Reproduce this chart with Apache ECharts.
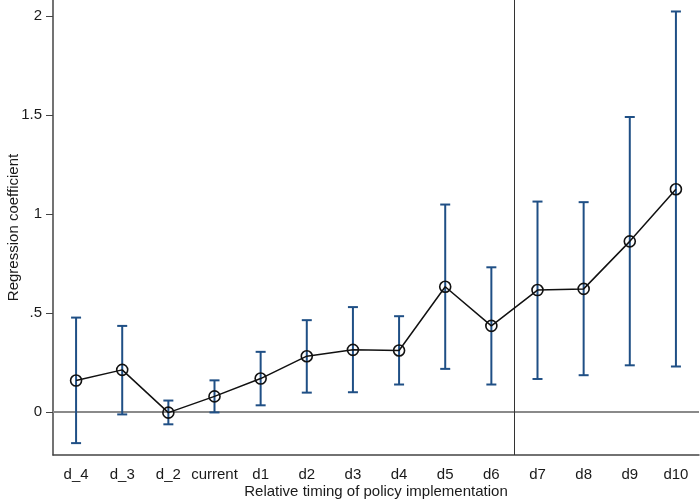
<!DOCTYPE html>
<html>
<head>
<meta charset="utf-8">
<script src="https://cdn.jsdelivr.net/npm/echarts@6/dist/echarts.min.js"></script>
<style>
  html, body { margin: 0; padding: 0; background: #fff; }
  #chart { width: 700px; height: 499px; }
</style>
</head>
<body>
<div id="chart"></div>
<script>
// event-time dummies
const categories = ["d_4", "d_3", "d_2", "current", "d1", "d2", "d3", "d4", "d5", "d6", "d7", "d8", "d9", "d10"];
// point estimates
const coef = [0.159, 0.213, -0.003, 0.079, 0.169, 0.282, 0.314, 0.311, 0.633, 0.435, 0.616, 0.622, 0.862, 1.125];
// confidence interval bounds
const ciLow = [-0.157, -0.012, -0.062, -0.002, 0.034, 0.098, 0.100, 0.139, 0.218, 0.139, 0.167, 0.186, 0.236, 0.230];
const ciHigh = [0.477, 0.435, 0.058, 0.160, 0.304, 0.464, 0.530, 0.484, 1.048, 0.731, 1.063, 1.060, 1.490, 2.023];
// y ticks
const yTicks = [0, 0.5, 1, 1.5, 2];
const yTickLabels = ["0", ".5", "1", "1.5", "2"];
// reference lines
const zeroLine = 0;
const breakPoint = 9.5; // between d6 and d7

const FONT = "Liberation Sans, Arial, sans-serif";
const textColor = "#1a1a1a";
const axisColor = "#444";
const ciColor = "#1f4f85";

const getOptions = () => ({
  animation: false,
  grid: { left: 53, right: 1, top: 0, bottom: 44, containLabel: false, outerBoundsMode: "none" },
  xAxis: [
    {
      type: "category",
      data: categories,
      boundaryGap: true,
      name: "Relative timing of policy implementation",
      nameLocation: "middle",
      nameGap: 29,
      nameMoveOverlap: false,
      nameTextStyle: { color: textColor, fontFamily: FONT, fontSize: 15 },
      axisLine: { onZero: false, lineStyle: { color: axisColor, width: 1.5 } },
      axisTick: { alignWithLabel: true, length: 6, lineStyle: { color: axisColor, width: 1 } },
      axisLabel: { color: textColor, fontFamily: FONT, fontSize: 15, margin: 12, interval: 0 },
      splitLine: { show: false }
    },
    {
      type: "value",
      min: -0.5,
      max: categories.length - 0.5,
      show: false
    }
  ],
  yAxis: {
    type: "value",
    min: -0.217,
    max: 2.081,
    name: "Regression coefficient",
    nameLocation: "middle",
    nameGap: 32,
    nameRotate: 90,
    nameMoveOverlap: false,
    nameTextStyle: { color: textColor, fontFamily: FONT, fontSize: 15 },
    axisLine: { show: true, onZero: false, lineStyle: { color: axisColor, width: 1.5 } },
    axisTick: {
      show: true,
      length: 7,
      customValues: yTicks,
      lineStyle: { color: axisColor, width: 1 }
    },
    axisLabel: {
      color: textColor,
      fontFamily: FONT,
      fontSize: 15,
      margin: 11,
      customValues: yTicks,
      formatter: (v) => {
        const i = yTicks.findIndex((t) => Math.abs(t - v) < 1e-6);
        return i >= 0 ? yTickLabels[i] : "";
      }
    },
    splitLine: { show: false }
  },
  series: [
    {
      type: "custom",
      xAxisIndex: 1,
      z: 3,
      data: categories.map((c, i) => [i, ciLow[i], ciHigh[i]]),
      renderItem: (params, api) => {
        const lo = api.coord([api.value(0), api.value(1)]);
        const hi = api.coord([api.value(0), api.value(2)]);
        const w = 5;
        const style = { stroke: ciColor, lineWidth: 2, fill: null };
        return {
          type: "group",
          children: [
            { type: "line", shape: { x1: lo[0], y1: lo[1], x2: hi[0], y2: hi[1] }, style },
            { type: "line", shape: { x1: lo[0] - w, y1: lo[1], x2: lo[0] + w, y2: lo[1] }, style },
            { type: "line", shape: { x1: hi[0] - w, y1: hi[1], x2: hi[0] + w, y2: hi[1] }, style }
          ]
        };
      },
      markLine: {
        silent: true,
        symbol: "none",
        label: { show: false },
        z: 1,
        data: [
          { yAxis: zeroLine, lineStyle: { color: "#8a8a8a", width: 2, type: "solid" } },
          { xAxis: breakPoint, lineStyle: { color: "#333", width: 1, type: "solid" } }
        ]
      }
    },
    {
      type: "line",
      data: coef,
      z: 4,
      symbol: "circle",
      symbolSize: 11,
      lineStyle: { color: "#111", width: 1.5 },
      itemStyle: { color: "transparent", borderColor: "#111", borderWidth: 1.6 }
    }
  ]
});

const chart = echarts.init(document.getElementById("chart"), null, { renderer: "canvas" });
chart.setOption(getOptions());
</script>
</body>
</html>
